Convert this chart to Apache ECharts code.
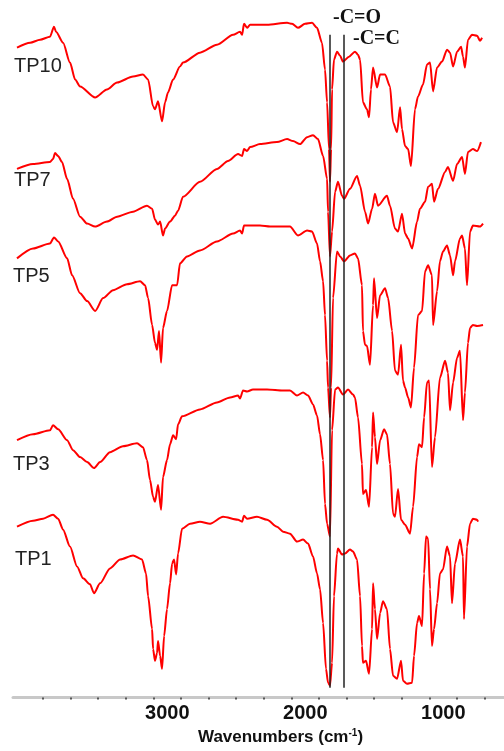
<!DOCTYPE html>
<html>
<head>
<meta charset="utf-8">
<script src="https://cdn.jsdelivr.net/npm/echarts@6/dist/echarts.min.js"></script>
<style>html,body{margin:0;padding:0;background:#fff}#c{width:504px;height:751px}</style>
</head>
<body>
<div id="c"></div>
<script>
// FTIR spectra: [wavenumber (cm-1), transmittance (a.u., offset stacked)]
const seriesNames = ['TP10', 'TP7', 'TP5', 'TP3', 'TP1'];
const tp10 = [[3988,654],[3893,659],[3821,662],[3749,665],[3720,675],[3705,670],[3654,659],[3604,639],[3567,622],[3531,615],[3422,604],[3336,612],[3263,619],[3147,625],[3075,627],[3038,622],[3002,595],[2988,592],[2966,600],[2937,580],[2915,599],[2894,609],[2857,622],[2807,635],[2785,639],[2662,649],[2539,657],[2422,667],[2372,670],[2357,667],[2343,678],[2321,674],[2299,677],[2176,677],[2031,679],[1995,678],[1952,674],[1901,678],[1850,679],[1814,674],[1778,659],[1756,632],[1741,599],[1727,552],[1720,519],[1712,552],[1705,612],[1691,642],[1669,650],[1647,646],[1626,640],[1582,645],[1539,650],[1517,647],[1502,642],[1481,599],[1452,592],[1437,584],[1423,612],[1408,634],[1379,614],[1357,627],[1321,627],[1285,615],[1263,579],[1234,569],[1212,594],[1198,572],[1176,555],[1154,552],[1133,535],[1104,592],[1082,605],[1046,617],[1017,637],[995,639],[973,610],[944,634],[908,640],[872,652],[850,649],[828,635],[799,650],[770,655],[756,645],[742,634],[720,662],[691,667],[654,666],[633,661],[618,664]];
const tp7 = [[3988,532],[3872,537],[3749,539],[3727,542],[3712,548],[3690,545],[3662,539],[3625,522],[3582,502],[3531,484],[3480,477],[3422,474],[3336,479],[3263,484],[3147,489],[3046,495],[3009,492],[2988,481],[2966,476],[2951,479],[2930,465],[2915,472],[2879,479],[2843,485],[2821,490],[2785,504],[2662,519],[2539,532],[2459,540],[2386,547],[2357,545],[2343,552],[2321,550],[2299,554],[2227,557],[2104,559],[2031,562],[1988,560],[1937,557],[1886,564],[1843,566],[1807,562],[1770,545],[1741,522],[1734,489],[1720,444],[1705,469],[1683,509],[1662,519],[1633,505],[1618,502],[1575,512],[1524,525],[1502,515],[1466,489],[1444,477],[1415,492],[1394,507],[1372,495],[1307,505],[1285,495],[1249,472],[1227,469],[1198,487],[1176,467],[1154,462],[1125,452],[1089,479],[1068,492],[1031,499],[1009,514],[981,517],[966,499],[937,512],[886,529],[865,534],[828,520],[799,537],[763,544],[742,527],[720,549],[684,552],[654,550],[626,559]];
const tp5 = [[3988,442],[3872,452],[3749,457],[3720,463],[3690,459],[3625,442],[3589,425],[3531,407],[3480,399],[3422,389],[3364,402],[3292,410],[3191,416],[3096,419],[3060,415],[3038,402],[3009,375],[2988,357],[2973,350],[2959,369],[2944,337],[2930,372],[2901,389],[2864,415],[2828,415],[2807,437],[2756,444],[2662,450],[2539,459],[2422,467],[2372,470],[2357,467],[2343,475],[2314,475],[2227,475],[2154,474],[2010,474],[1952,465],[1886,470],[1850,469],[1814,457],[1792,439],[1770,419],[1756,385],[1741,339],[1734,312],[1720,282],[1712,312],[1698,402],[1669,449],[1647,444],[1618,439],[1575,445],[1539,447],[1517,442],[1488,415],[1481,369],[1466,355],[1452,354],[1430,335],[1408,395],[1401,422],[1379,382],[1357,405],[1321,412],[1299,402],[1270,369],[1249,329],[1227,325],[1205,355],[1191,319],[1176,312],[1154,302],[1133,292],[1111,332],[1082,385],[1053,389],[1031,429],[1009,435],[981,425],[973,375],[944,409],[923,439],[901,449],[872,455],[850,445],[828,425],[814,439],[778,462],[763,465],[742,452],[727,415],[705,469],[684,475],[633,474],[611,477]];
const tp3 = [[3988,259],[3872,265],[3749,269],[3727,274],[3690,270],[3625,259],[3582,249],[3531,242],[3480,237],[3430,231],[3386,237],[3314,247],[3220,253],[3118,256],[3075,252],[3046,239],[3024,219],[3002,202],[2988,197],[2966,214],[2944,189],[2930,222],[2901,239],[2879,255],[2857,264],[2835,260],[2821,275],[2792,283],[2662,290],[2539,297],[2444,302],[2386,304],[2372,301],[2350,309],[2321,308],[2278,310],[2176,310],[2060,309],[2010,309],[1959,304],[1915,307],[1879,304],[1843,295],[1814,284],[1792,265],[1770,239],[1756,195],[1741,175],[1720,162],[1705,269],[1683,310],[1662,312],[1626,305],[1589,310],[1553,305],[1539,302],[1517,282],[1488,235],[1481,205],[1459,209],[1437,192],[1415,252],[1408,287],[1394,262],[1379,235],[1357,259],[1328,270],[1307,265],[1285,235],[1263,185],[1249,182],[1227,210],[1205,179],[1176,174],[1140,165],[1118,192],[1089,242],[1075,255],[1053,252],[1038,282],[1017,317],[1002,319],[981,232],[959,262],[923,322],[886,339],[865,327],[850,289],[828,317],[799,342],[778,349],[756,279],[742,307],[720,357],[705,372],[684,375],[654,374],[611,375]];
const tp1 = [[3988,172],[3872,178],[3799,180],[3727,184],[3690,180],[3654,169],[3604,152],[3553,132],[3509,120],[3459,114],[3430,105],[3386,115],[3314,130],[3241,139],[3147,143],[3082,139],[3053,125],[3038,102],[3009,69],[3002,49],[2988,37],[2973,45],[2966,57],[2951,42],[2937,29],[2922,62],[2901,89],[2879,115],[2864,135],[2850,139],[2835,124],[2821,145],[2792,170],[2734,175],[2662,177],[2589,175],[2495,182],[2386,179],[2357,177],[2343,183],[2321,180],[2249,182],[2176,179],[2104,172],[2060,167],[2010,165],[1959,157],[1915,159],[1879,155],[1843,142],[1814,125],[1792,109],[1770,75],[1749,29],[1734,15],[1720,12],[1705,35],[1691,102],[1669,145],[1662,150],[1633,144],[1611,145],[1575,149],[1553,147],[1524,139],[1502,102],[1488,52],[1481,35],[1459,37],[1437,24],[1415,69],[1408,115],[1394,89],[1379,59],[1357,85],[1336,97],[1307,89],[1285,49],[1263,22],[1234,19],[1205,37],[1191,17],[1162,14],[1125,15],[1111,42],[1089,75],[1075,82],[1053,72],[1038,125],[1024,162],[1009,160],[995,109],[981,52],[966,69],[944,95],[923,125],[901,129],[872,152],[850,142],[836,95],[814,135],[778,159],[756,142],[749,79],[727,152],[705,175],[684,180],[654,179],[647,177]];
const spectra = [tp10, tp7, tp5, tp3, tp1];
// marker lines (cm-1) and their labels
const markerWn = [1720, 1618];
const markerNames = ['-C=O', '-C=C'];
const markerSpan = [10, 667];
const tickValues = [600,800,1000,1200,1400,1600,1800,2000,2200,2400,2600,2800,3000,3200,3400,3600,3800];
const labelValues = [1000, 2000, 3000];

const chart = echarts.init(document.getElementById('c'), null, {renderer: 'canvas'});
const series = spectra.map((d, i) => ({
  name: seriesNames[i], type: 'line', data: d, symbol: 'none', smooth: 0.25, smoothMonotone: 'x',
  lineStyle: {color: '#ff0000', width: 2, join: 'round'}, silent: true,
  markLine: i === 0 ? {
    silent: true, symbol: 'none', label: {show: false},
    lineStyle: {color: '#222', width: 1.5, type: 'solid'},
    data: markerWn.map(w => [{coord: [w, markerSpan[0]]}, {coord: [w, markerSpan[1]]}])
  } : undefined
}));
const labelPos = [[14, 66], [14, 180], [13, 276], [13, 464], [15, 559]];
const markerPos = [[333, 18], [353, 39]];
const graphics = seriesNames.map((n, i) => ({
  type: 'text', left: labelPos[i][0], top: labelPos[i][1] - 10,
  style: {text: n, fill: '#222', font: '20px "Liberation Sans", Arial, sans-serif'}
})).concat(markerNames.map((n, i) => ({
  type: 'text', left: markerPos[i][0], top: markerPos[i][1] - 10,
  style: {text: n, fill: '#111', font: 'bold 20px "Liberation Serif", "Times New Roman", serif'}
})));
chart.setOption({
  animation: false,
  backgroundColor: '#fff',
  grid: {left: 13, right: 0, top: 0, bottom: 49},
  xAxis: {
    type: 'value', inverse: true, min: 459, max: 4017,
    axisLine: {show: true, lineStyle: {color: '#c8c8c8', width: 3}},
    axisTick: {show: true, length: 2, inside: false, customValues: tickValues, lineStyle: {color: '#555', width: 2}},
    axisLabel: {show: true, customValues: labelValues, margin: 6, padding: [0, 0, 0, 28],
      formatter: v => String(v),
      color: '#111', fontSize: 20, fontWeight: 'bold', fontFamily: '"Liberation Sans", Arial, sans-serif'},
    splitLine: {show: false},
    name: '{a|Wavenumbers (cm}{s|-1}{a|)}', nameLocation: 'middle', nameGap: 30,
    nameTextStyle: {padding: [0, 0, 0, 44], rich: {
      a: {fontSize: 17, fontWeight: 'bold', color: '#111', fontFamily: '"Liberation Sans", Arial, sans-serif'},
      s: {fontSize: 10, fontWeight: 'bold', color: '#111', padding: [0, 0, 8, 0], fontFamily: '"Liberation Sans", Arial, sans-serif'}
    }}
  },
  yAxis: {type: 'value', min: 0, max: 702, show: false, splitLine: {show: false}},
  series: series,
  graphic: graphics
});
</script>
</body>
</html>
